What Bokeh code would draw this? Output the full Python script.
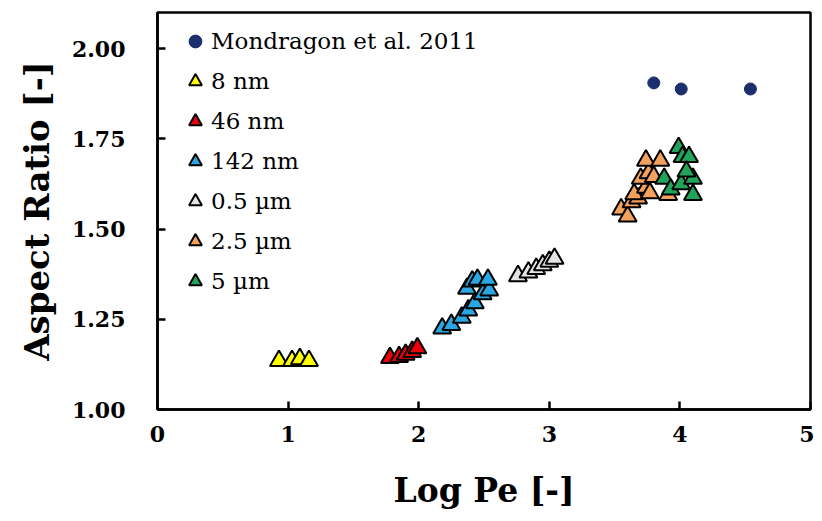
from bokeh.plotting import figure
from bokeh.models import Range1d, FixedTicker, PrintfTickFormatter, Legend, LegendItem
from bokeh.embed import file_html
from bokeh.resources import INLINE

# ---- data ----
mond_x = [3.80, 4.01, 4.54]
mond_y = [1.905, 1.888, 1.888]

nm8_x = [0.93, 1.03, 1.09, 1.16]
nm8_y = [1.135, 1.135, 1.14, 1.135]

nm46_x = [1.78, 1.85, 1.90, 1.95, 1.99]
nm46_y = [1.143, 1.146, 1.152, 1.160, 1.170]

nm142_x = [2.18, 2.25, 2.33, 2.38, 2.43, 2.49, 2.54, 2.37, 2.41, 2.45, 2.53]
nm142_y = [1.225, 1.235, 1.255, 1.275, 1.295, 1.320, 1.330, 1.335, 1.355, 1.360, 1.360]

um05_x = [2.76, 2.84, 2.90, 2.95, 3.00, 3.04]
um05_y = [1.370, 1.380, 1.390, 1.400, 1.410, 1.418]

um25_x = [3.55, 3.60, 3.63, 3.68, 3.65, 3.74, 3.77, 3.70, 3.76, 3.80, 3.74, 3.85, 3.91]
um25_y = [1.555, 1.535, 1.575, 1.585, 1.597, 1.615, 1.600, 1.640, 1.655, 1.645, 1.690, 1.690, 1.595]

um5_x = [3.99, 4.02, 4.07, 3.88, 3.93, 4.01, 4.10, 4.10, 4.05]
um5_y = [1.725, 1.700, 1.700, 1.640, 1.610, 1.625, 1.640, 1.595, 1.660]

x_ticks = [0, 1, 2, 3, 4, 5]
y_ticks = [1.0, 1.25, 1.5, 1.75, 2.0]

series = [
    ("8 nm", nm8_x, nm8_y, "#FFFF00"),
    ("46 nm", nm46_x, nm46_y, "#E8000B"),
    ("142 nm", nm142_x, nm142_y, "#2AA6E0"),
    ("0.5 \u00b5m", um05_x, um05_y, "#E4E4E4"),
    ("2.5 \u00b5m", um25_x, um25_y, "#F4A15D"),
    ("5 \u00b5m", um5_x, um5_y, "#1FA45A"),
]

p = figure(width=814, height=513, output_backend="svg", toolbar_location=None,
           x_range=Range1d(0, 5), y_range=Range1d(1.0, 2.1),
           min_border_left=157, min_border_right=4, min_border_top=12, min_border_bottom=104)

p.xgrid.visible = False
p.ygrid.visible = False
p.outline_line_color = "black"
p.outline_line_width = 2.5
p.outline_line_alpha = 1.0
p.background_fill_color = "white"
p.border_fill_color = "white"

items = []
r = p.scatter(mond_x, mond_y, marker="circle", size=12, fill_color="#1B2F6E", line_color="#1B2F6E")
items.append(LegendItem(label="Mondragon et al. 2011", renderers=[r]))
for name, xs, ys, col in series:
    r = p.scatter(xs, ys, marker="triangle", size=18, fill_color=col, line_color="black", line_width=2)
    items.append(LegendItem(label=name, renderers=[r]))

legend = Legend(items=items, location=(22, 112), glyph_width=32, glyph_height=32,
                label_standoff=0, spacing=8, padding=0, margin=0,
                border_line_color=None, background_fill_alpha=0,
                label_text_font="DejaVu Serif", label_text_font_size="23px",
                label_text_color="black")
p.add_layout(legend, "center")

for ax in (p.xaxis[0], p.yaxis[0]):
    ax.axis_line_width = 2.5
    ax.axis_line_color = "black"
    ax.major_tick_in = 8
    ax.major_tick_out = 0
    ax.major_tick_line_width = 2.5
    ax.minor_tick_line_color = None
    ax.major_label_text_font = "DejaVu Serif"
    ax.major_label_text_font_style = "bold"
    ax.major_label_text_font_size = "22px"
    ax.major_label_text_color = "black"
    ax.axis_label_text_font = "DejaVu Serif"
    ax.axis_label_text_font_style = "bold"
    ax.axis_label_text_color = "black"

p.xaxis[0].axis_label_text_font_size = "33px"
p.yaxis[0].axis_label_text_font_size = "34px"
p.xaxis[0].ticker = FixedTicker(ticks=x_ticks)
p.yaxis[0].ticker = FixedTicker(ticks=y_ticks)
p.yaxis[0].formatter = PrintfTickFormatter(format="%.2f")
p.xaxis[0].axis_label = "Log Pe [-]"
p.yaxis[0].axis_label = "Aspect Ratio [-]"
p.xaxis[0].major_label_standoff = 16
p.yaxis[0].major_label_standoff = 32
p.xaxis[0].axis_label_standoff = 26
p.yaxis[0].axis_label_standoff = 12

open("out.html", "w").write(file_html(p, INLINE))
